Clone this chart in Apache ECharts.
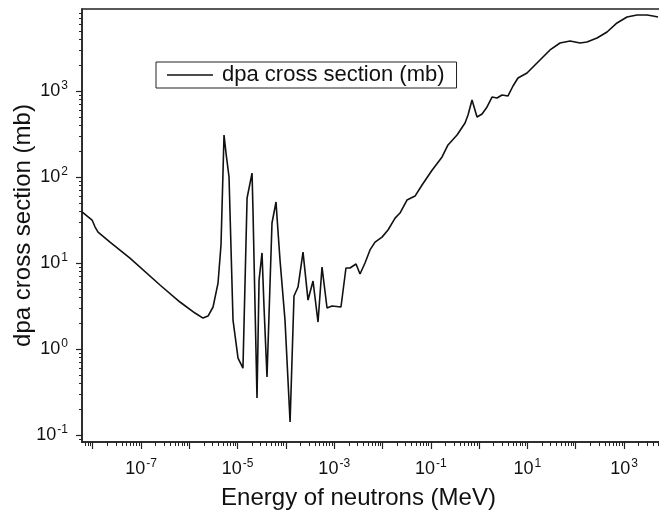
<!DOCTYPE html>
<html>
<head>
<meta charset="utf-8">
<script src="https://cdn.jsdelivr.net/npm/echarts@6/dist/echarts.min.js"></script>
<style>html,body{margin:0;padding:0;background:#fff;}#c{width:659px;height:513px;}</style>
</head>
<body>
<div id="c"></div>
<script>
// Neutron energy (MeV)
const energy = [6.0e-9, 9.7e-9, 1.12e-8, 1.29e-8, 2.28e-8, 5.9e-8, 2.47e-7, 6.4e-7, 1.31e-6, 1.92e-6,
  2.44e-6, 3.1e-6, 3.93e-6, 4.53e-6, 5.23e-6, 5.75e-6, 6.64e-6, 8.03e-6, 1.02e-5, 1.29e-5,
  1.57e-5, 1.99e-5, 2.08e-5, 2.52e-5, 2.78e-5, 3.2e-5, 3.52e-5, 4.06e-5, 5.15e-5, 6.24e-5,
  6.54e-5, 7.55e-5, 9.57e-5, 1.22e-4, 1.47e-4, 1.78e-4, 2.26e-4, 2.87e-4, 3.64e-4, 4.62e-4,
  5.59e-4, 7.1e-4, 9.0e-4, 1.38e-3, 1.75e-3, 2.12e-3, 2.83e-3, 3.42e-3, 4.34e-3, 5.51e-3,
  7.0e-3, 9.77e-3, 1.3e-2, 1.82e-2, 2.3e-2, 3.21e-2, 4.71e-2, 6.58e-2, 0.106, 0.171,
  0.227, 0.349, 0.511, 0.589, 0.713, 0.905, 1.15, 1.46, 1.85, 2.35,
  2.98, 3.96, 5.03, 6.38, 9.82, 11.3, 18.2, 29.4, 47.3, 76.3,
  123, 171, 276, 445, 716, 1153, 1858, 2993, 3981, 5058];
// dpa cross section (mb)
const dpa = [39.2, 31.6, 26.2, 22.9, 17.5, 11.4, 5.55, 3.52, 2.62, 2.29,
  2.42, 3.08, 5.85, 16.2, 308, 190, 100, 2.17, 0.785, 0.60,
  57, 111, 41.3, 0.269, 6.34, 13.1, 3.08, 0.472, 29.2, 51.2,
  34.3, 10.8, 2.17, 0.142, 4.13, 5.26, 13.4, 3.71, 6.18, 2.06,
  8.98, 3.0, 3.16, 3.08, 8.75, 8.75, 9.73, 7.45, 10, 14.2,
  17.5, 20, 24.2, 33.3, 38.1, 54, 60, 80.7, 120, 171,
  236, 308, 425, 526, 785, 499, 541, 652, 851, 829,
  898, 875, 1143, 1416, 1618, 1754, 2293, 3000, 3614, 3811,
  3614, 3714, 4131, 4854, 6180, 7244, 7656, 7656, 7447, 7244];
const seriesName = 'dpa cross section (mb)';
const xTitle = 'Energy of neutrons (MeV)';
const yTitle = 'dpa cross section (mb)';
const xRange = [6.0e-9, 5830];
const yRange = [0.083, 8980];
const xMajorTicks = [1e-8, 1e-7, 1e-6, 1e-5, 1e-4, 1e-3, 1e-2, 1e-1, 1, 10, 100, 1000];
const xLabelTicks = [1e-7, 1e-5, 1e-3, 1e-1, 10, 1000];
const yMajorTicks = [0.1, 1, 10, 100, 1000];
const yLabelTicks = [0.1, 1, 10, 100, 1000];
const minorMult = [2, 3, 4, 5, 6, 7, 8, 9];

function minorList(range) {
  const out = [];
  const e0 = Math.floor(Math.log10(range[0])), e1 = Math.ceil(Math.log10(range[1]));
  for (let e = e0; e <= e1; e++) {
    minorMult.forEach(m => {
      const v = parseFloat((m * Math.pow(10, e)).toPrecision(6));
      if (v > range[0] && v < range[1]) out.push(v);
    });
  }
  return out;
}

const FONT = '"Liberation Sans", Arial, sans-serif';
function fmt(v) {
  const r = Math.round(Math.log10(v));
  return '10{s|' + r + '}';
}
const labelRich = { s: { fontSize: 12, fontFamily: FONT, color: '#111', verticalAlign: 'top', lineHeight: 12, padding: [0, 0, 0, 1] } };

const axisColor = '#222';
function baseAxis(range, extra) {
  return Object.assign({
    type: 'log', logBase: 10, min: range[0], max: range[1],
    splitLine: { show: false }, minorTick: { show: false }, minorSplitLine: { show: false }
  }, extra);
}

const chart = echarts.init(document.getElementById('c'), null, { renderer: 'canvas' });
chart.setOption({
  animation: false,
  backgroundColor: '#fff',
  grid: { left: 82, top: 9, right: -2, bottom: 71, containLabel: false, outerBoundsMode: 'none',
    show: true, borderColor: axisColor, borderWidth: 1.5, backgroundColor: 'transparent' },
  legend: {
    show: true, left: 156, top: 62, orient: 'horizontal',
    padding: [2, 12, 2, 11], borderColor: axisColor, borderWidth: 1, borderRadius: 0,
    itemWidth: 46, itemHeight: 2,
    textStyle: { fontFamily: FONT, fontSize: 22, color: '#111', padding: [0, 0, 0, 4] },
    data: [{ name: seriesName, icon: 'path://M0,0L100,0L100,3L0,3Z', itemStyle: { color: '#111' } }]
  },
  xAxis: [
    baseAxis(xRange, {
      name: xTitle, nameLocation: 'middle', nameGap: 44, nameMoveOverlap: false,
      nameTextStyle: { fontFamily: FONT, fontSize: 24, color: '#111', padding: [0, 26, 0, 0] },
      axisLine: { show: true, lineStyle: { color: axisColor, width: 1.5 } },
      axisTick: { show: true, inside: false, length: 7, customValues: xMajorTicks, lineStyle: { color: axisColor, width: 1.2 } },
      axisLabel: { show: true, margin: 16, fontFamily: FONT, fontSize: 18, color: '#111', lineHeight: 22,
        customValues: xLabelTicks, formatter: fmt, rich: labelRich }
    }),
    baseAxis(xRange, {
      position: 'bottom',
      axisLine: { show: false },
      axisTick: { show: true, inside: false, length: 4, customValues: minorList(xRange), lineStyle: { color: axisColor, width: 1 } },
      axisLabel: { show: false }
    })
  ],
  yAxis: [
    baseAxis(yRange, {
      name: yTitle, nameLocation: 'middle', nameGap: 47, nameMoveOverlap: false,
      nameTextStyle: { fontFamily: FONT, fontSize: 24, color: '#111' },
      axisLine: { show: true, lineStyle: { color: axisColor, width: 1.5 } },
      axisTick: { show: true, inside: false, length: 6, customValues: yMajorTicks, lineStyle: { color: axisColor, width: 1.2 } },
      axisLabel: { show: true, margin: 14, fontFamily: FONT, fontSize: 18, color: '#111', lineHeight: 22,
        customValues: yLabelTicks, formatter: fmt, rich: labelRich }
    }),
    baseAxis(yRange, {
      position: 'left',
      axisLine: { show: false },
      axisTick: { show: true, inside: false, length: 3, customValues: minorList(yRange), lineStyle: { color: axisColor, width: 1 } },
      axisLabel: { show: false }
    })
  ],
  series: [{
    name: seriesName, type: 'line', symbol: 'none', smooth: false,
    xAxisIndex: 0, yAxisIndex: 0,
    lineStyle: { color: '#111', width: 1.6 },
    itemStyle: { color: '#111' },
    data: energy.map((e, i) => [e, dpa[i]])
  }]
});
</script>
</body>
</html>
